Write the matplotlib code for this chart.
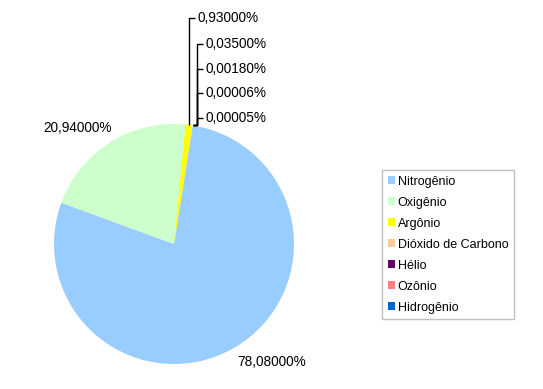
import matplotlib.pyplot as plt
from matplotlib.patches import Patch
import numpy as np

gases = ['Nitrogênio', 'Oxigênio', 'Argônio', 'Dióxido de Carbono',
         'Hélio', 'Ozônio', 'Hidrogênio']
percent = [78.08, 20.94, 0.93, 0.035, 0.0018, 0.00006, 0.00005]
colors = ['#99ccff', '#ccffcc', '#ffff00', '#ffcc99', '#660066', '#ff8080', '#0066cc']

W, H = 543, 389
CX, CY, R = 174, 244, 120  # pie centre and radius in pixels

plt.rcParams['font.family'] = ['Liberation Sans', 'DejaVu Sans']

fig = plt.figure(figsize=(W / 100, H / 100), dpi=100)
ax = fig.add_axes([(CX - R) / W, (H - CY - R) / H, 2 * R / W, 2 * R / H])
wedges, _ = ax.pie(percent, colors=colors, startangle=81, counterclock=False,
                   radius=1, wedgeprops={'linewidth': 0})
ax.set_xlim(-1, 1)
ax.set_ylim(-1, 1)
ax.set_aspect('equal')
ax.axis('off')


def fmt(v):
    return f'{v:.5f}'.replace('.', ',') + '%'


def py2d(py):
    return (CY - py) / R


def px2d(px):
    return (px - CX) / R


# big slices: plain labels
ax.text(px2d(237), py2d(362), fmt(percent[0]), fontsize=9.8, va='center', ha='left')
ax.text(px2d(43), py2d(128), fmt(percent[1]), fontsize=9.8, va='center', ha='left')

# small slices: stacked labels with leader lines
label_y = [18, 44, 69, 93, 118]
for i, ly in zip(range(2, 7), label_y):
    w = wedges[i]
    mid = np.deg2rad((w.theta1 + w.theta2) / 2)
    ex, ey = np.cos(mid), np.sin(mid)
    vx = ex if i == 2 else px2d(197)
    ax.plot([ex, vx, vx, vx + 6 / R], [ey, ey, py2d(ly), py2d(ly)],
            color='black', lw=1, clip_on=False, solid_capstyle='butt')
    ax.text(vx + 8 / R, py2d(ly), fmt(percent[i]), fontsize=9.8, va='center', ha='left')

handles = [Patch(facecolor=c, edgecolor='none') for c in colors]
leg = fig.legend(handles, gases, loc='upper left',
                 bbox_to_anchor=(382 / W, 1 - 170 / H), borderaxespad=0,
                 fontsize=9, frameon=True, fancybox=False, framealpha=1,
                 handlelength=0.6, handleheight=0.6, handletextpad=0.2,
                 labelspacing=0.72, borderpad=0.45)
leg.get_frame().set_edgecolor('#c0c0c0')
leg.get_frame().set_linewidth(1)

fig.savefig('out.png', dpi=100)
